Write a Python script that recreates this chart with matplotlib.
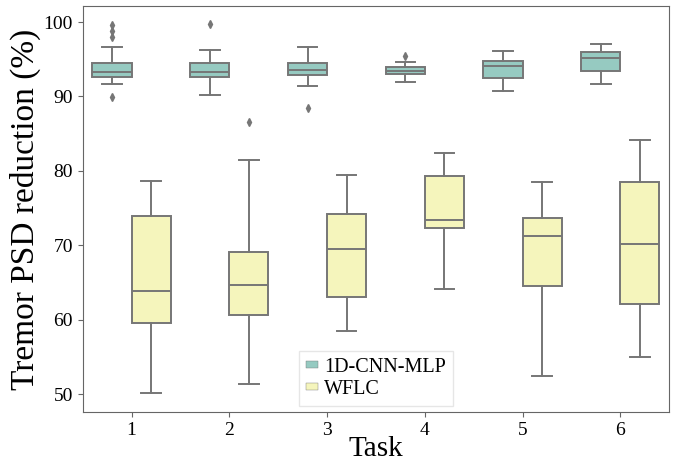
import matplotlib
matplotlib.use('Agg')
import matplotlib.pyplot as plt
from matplotlib.patches import Patch

plt.rcParams['font.family'] = ['Liberation Serif', 'DejaVu Serif']

tasks = ['1', '2', '3', '4', '5', '6']
methods = ['1D-CNN-MLP', 'WFLC']
colors = ['#96cac1', '#f5f5bc']
line_gray = '#767676'

# box stats: whislo, q1, med, q3, whishi, fliers
cnn_whislo = [91.70, 90.23, 91.39, 91.93, 90.72, 91.70]
cnn_q1 = [92.68, 92.68, 92.86, 93.00, 92.46, 93.44]
cnn_med = [93.27, 93.31, 93.57, 93.48, 94.07, 95.18]
cnn_q3 = [94.47, 94.56, 94.47, 93.93, 94.78, 96.03]
cnn_whishi = [96.61, 96.29, 96.70, 94.60, 96.07, 97.05]
cnn_fliers = [[99.56, 98.80, 98.03, 89.87], [99.69], [88.40], [95.49], [], []]

wflc_whislo = [50.20, 51.36, 58.50, 64.12, 52.48, 54.93]
wflc_q1 = [59.57, 60.64, 63.05, 72.34, 64.48, 62.11]
wflc_med = [63.86, 64.66, 69.44, 73.36, 71.18, 70.11]
wflc_q3 = [73.94, 69.04, 74.26, 79.34, 73.72, 78.49]
wflc_whishi = [78.67, 81.49, 79.43, 82.46, 78.54, 84.11]
wflc_fliers = [[], [86.57], [], [], [], []]


def make_stats(lo, q1, med, q3, hi, fl):
    return [dict(whislo=a, q1=b, med=c, q3=d, whishi=e, fliers=f)
            for a, b, c, d, e, f in zip(lo, q1, med, q3, hi, fl)]


groups = [
    make_stats(cnn_whislo, cnn_q1, cnn_med, cnn_q3, cnn_whishi, cnn_fliers),
    make_stats(wflc_whislo, wflc_q1, wflc_med, wflc_q3, wflc_whishi, wflc_fliers),
]

fig, ax = plt.subplots(figsize=(6.78, 4.66), dpi=100)
fig.subplots_adjust(left=0.122, right=0.987, top=0.987, bottom=0.116)

width = 0.4
for k, stats in enumerate(groups):
    pos = [i + (k - 0.5) * width for i in range(len(tasks))]
    ax.bxp(stats, positions=pos, widths=width, patch_artist=True,
           boxprops=dict(facecolor=colors[k], edgecolor=line_gray, linewidth=1.4),
           medianprops=dict(color=line_gray, linewidth=1.4),
           whiskerprops=dict(color=line_gray, linewidth=1.4),
           capprops=dict(color=line_gray, linewidth=1.4),
           flierprops=dict(marker='d', markersize=4, markerfacecolor=line_gray,
                           markeredgecolor=line_gray),
           manage_ticks=False)

ax.set_xlim(-0.5, len(tasks) - 0.5)
ax.set_ylim(47.6, 102.15)
ax.set_xticks(range(len(tasks)))
ax.set_xticklabels(tasks)
ax.set_yticks([50, 60, 70, 80, 90, 100])
ax.tick_params(labelsize=14, color='0.4', length=3.5)
for s in ax.spines.values():
    s.set_color('0.4')

ax.set_xlabel('Task', fontsize=21, labelpad=-2)
ax.set_ylabel('Tremor PSD reduction (%)', fontsize=24, labelpad=2)

handles = [Patch(facecolor=colors[k], edgecolor=line_gray, linewidth=0.3) for k in range(2)]
leg = ax.legend(handles, methods, loc='lower center', fontsize=14.5,
                handlelength=0.6, handleheight=0.1, handletextpad=0.3,
                labelspacing=0.15, borderaxespad=0.3, fancybox=False,
                borderpad=0.35)
leg.get_frame().set_edgecolor('0.88')

fig.savefig('out.png', dpi=100)
